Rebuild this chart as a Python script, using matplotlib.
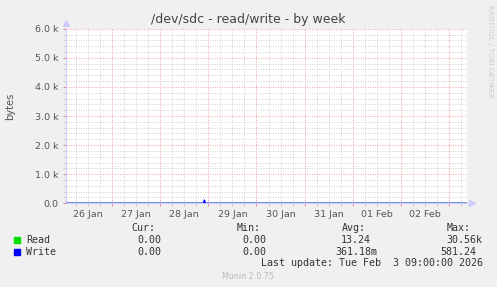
import numpy as np
import matplotlib
matplotlib.use("Agg")
from matplotlib import pyplot as plt
import matplotlib.dates as mdates
from matplotlib.patches import Rectangle
from matplotlib.ticker import MultipleLocator, FuncFormatter

# time range of the week graph
t_start = np.datetime64("2026-01-26T01:00")
t_end = np.datetime64("2026-02-03T09:00")

# series (bytes)
read_times = np.array(["2026-01-26T01:00", "2026-02-03T09:00"], dtype="datetime64[m]")
read_vals = [0, 0]
write_times = np.array(["2026-01-26T01:00", "2026-01-28T21:30", "2026-01-28T22:00",
                        "2026-01-28T22:30", "2026-02-03T09:00"], dtype="datetime64[m]")
write_vals = [0, 0, 110, 0, 0]

y_ticks = [0, 1000, 2000, 3000, 4000, 5000, 6000]
y_labels = ["0.0", "1.0 k", "2.0 k", "3.0 k", "4.0 k", "5.0 k", "6.0 k"]

legend_names = ["Read", "Write"]
legend_colors = ["#00e000", "#0000ff"]
cur_vals = ["0.00", "0.00"]
min_vals = ["0.00", "0.00"]
avg_vals = ["13.24", "361.18m"]
max_vals = ["30.56k", "581.24"]

W, H = 497, 287
fig = plt.figure(figsize=(W / 100, H / 100), dpi=100, facecolor="#f0f0f0")
ax = fig.add_axes([66 / W, 1 - 203.3 / H, 401 / W, (203.3 - 28.7) / H])
ax.set_facecolor("white")

ax.plot(read_times.astype("datetime64[s]").astype(object), read_vals, color=legend_colors[0], lw=1, zorder=3)
ax.plot(write_times.astype("datetime64[s]").astype(object), write_vals, color=legend_colors[1], lw=1, zorder=4)

ax.set_xlim(t_start.astype(object), t_end.astype(object))
ax.set_ylim(0, 6000)

ax.set_yticks(y_ticks)
ax.set_yticklabels(y_labels)
ax.yaxis.set_minor_locator(MultipleLocator(200))

ax.xaxis.set_major_locator(mdates.DayLocator())
ax.xaxis.set_major_formatter(FuncFormatter(lambda v, p: ""))
ax.xaxis.set_minor_locator(mdates.HourLocator(byhour=[0, 6, 12, 18]))


def day_label(v, pos):
    d = mdates.num2date(v)
    return d.strftime("%d %b") if d.hour == 12 else ""


ax.xaxis.set_minor_formatter(FuncFormatter(day_label))

dots = (0, (1, 1.5))
ax.grid(which="minor", color="#d0d0d0", lw=0.7, ls=dots, zorder=1)
ax.grid(which="major", color="#f0a0a0", lw=0.7, ls=dots, zorder=2)
ax.set_axisbelow(True)

ax.tick_params(axis="x", which="major", length=2.5, color="#f08080", width=0.7)
ax.tick_params(axis="x", which="minor", length=2, color="#cccccc", width=0.7,
               labelsize=6.8, labelcolor="#555555", pad=2.5)
ax.tick_params(axis="y", which="major", length=2.5, color="#f08080", width=0.7,
               labelsize=6.8, labelcolor="#555555", pad=3)
ax.tick_params(axis="y", which="minor", length=2, color="#cccccc", width=0.7)

for s in ["top", "right"]:
    ax.spines[s].set_visible(False)
ax.spines["left"].set_color("#ccccff")
ax.spines["bottom"].set_color("#ccccff")
ax.spines["left"].set_linewidth(0.8)
ax.spines["bottom"].set_linewidth(0.8)

# rrdtool style axis arrows
ax.plot([0], [1.03], marker="^", ms=4, color="#ccccff", transform=ax.transAxes, clip_on=False)
ax.plot([1.012], [0], marker=">", ms=4, color="#ccccff", transform=ax.transAxes, clip_on=False)

ax.set_ylabel("bytes", fontsize=7.2, color="#555555")
ax.yaxis.set_label_coords((15 - 66) / 401, (203.3 - 106) / 174.6)

fig.text(248.7 / W, 1 - 19 / H, "/dev/sdc - read/write - by week", ha="center", va="center",
         fontsize=9, color="#444444")
fig.text(490 / W, 1 - 5 / H, "RRDTOOL / TOBI OETIKER", rotation=270, ha="center", va="top",
         fontsize=5.2, color="#cccccc")


def ftext(x, y, s, **kw):
    fig.text(x / W, 1 - y / H, s, va="center", family="DejaVu Sans Mono",
             fontsize=7.2, color="#333333", **kw)


ftext(131.7, 228.3, "Cur:")
ftext(236.7, 228.3, "Min:")
ftext(342.3, 228.3, "Avg:")
ftext(446.7, 228.3, "Max:")

rows_y = [239.7, 251.7]
for i in range(2):
    y = rows_y[i]
    fig.patches.append(Rectangle((14 / W, 1 - (y + 3) / H), 6 / W, 6 / H,
                                 transform=fig.transFigure, color=legend_colors[i]))
    ftext(26, y, legend_names[i])
    ftext(161, y, cur_vals[i], ha="right")
    ftext(266, y, min_vals[i], ha="right")
    ftext(371 if avg_vals[i][-1].isdigit() else 377.7, y, avg_vals[i], ha="right")
    ftext(476.7 if max_vals[i][-1].isdigit() else 482.7, y, max_vals[i], ha="right")

ftext(482.7, 263.3, "Last update: Tue Feb  3 09:00:00 2026", ha="right")
fig.text(248.5 / W, 1 - 276.3 / H, "Munin 2.0.75", ha="center", va="center",
         fontsize=5.8, color="#bbbbbb")

fig.savefig("out.png", dpi=100, facecolor=fig.get_facecolor())
